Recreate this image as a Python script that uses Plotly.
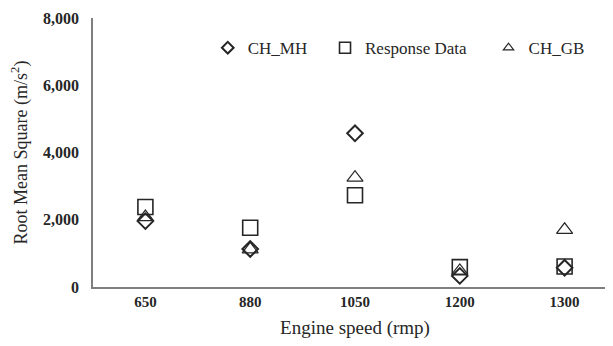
import plotly.graph_objects as go

categories = ["650", "880", "1050", "1200", "1300"]
ch_mh = [1960, 1130, 4570, 330, 570]
response_data = [2380, 1760, 2730, 590, 610]
ch_gb = [2080, 1120, 3250, 480, 1700]
series_names = ["CH_MH", "Response Data", "CH_GB"]
legend_pad = ["\u00a0\u00a0\u00a0", "\u00a0\u00a0\u00a0\u00a0", ""]

color = "#262626"
symbols = ["diamond-open", "square-open", "triangle-up-open"]
sizes = [12, 15, 14]
widths = [2, 1.6, 1.2]
leg_sizes = [9, 11, 9]

fig = go.Figure()
for name, vals, sym, sz, w in zip(series_names, [ch_mh, response_data, ch_gb], symbols, sizes, widths):
    fig.add_trace(go.Scatter(x=categories, y=vals, mode="markers", name=name, showlegend=False,
                             marker=dict(symbol=sym, size=sz, color=color, line=dict(width=w, color=color))))
for name, pad, sym, sz, w in zip(series_names, legend_pad, symbols, leg_sizes, widths):
    fig.add_trace(go.Scatter(x=[None], y=[None], mode="markers", name=name + pad, showlegend=True,
                             marker=dict(symbol=sym, size=sz, color=color, line=dict(width=w, color=color))))

fig.update_layout(
    width=609, height=338,
    margin=dict(l=85, r=0, t=10, b=59, autoexpand=False),
    paper_bgcolor="white", plot_bgcolor="white",
    font=dict(family="Liberation Serif", color="#262626"),
    showlegend=True,
    legend=dict(orientation="h", x=0.219, y=0.888, xanchor="left", yanchor="middle",
                font=dict(size=17, family="Liberation Serif", color="#262626"),
                bgcolor="rgba(0,0,0,0)"),
)
fig.update_xaxes(type="category", range=[-0.5, 4.5], showline=True, linecolor="#7f7f7f", linewidth=1.5,
                 ticks="", showgrid=False, zeroline=False, automargin=False,
                 tickfont=dict(size=15, family="Liberation Serif", color="#262626", weight="bold"),
                 title=dict(text="Engine speed (rmp)", font=dict(size=19, family="Liberation Serif", color="#262626"), standoff=12))
fig.update_yaxes(range=[0, 8000], dtick=2000, tickformat=",d", showline=True, linecolor="#7f7f7f", linewidth=1.5,
                 ticks="", showgrid=False, zeroline=False, ticklabelstandoff=9, automargin=False,
                 tickfont=dict(size=16, family="Liberation Serif", color="#262626", weight="bold"),
                 title=dict(text="Root Mean Square (m/s<sup>2</sup>)", font=dict(size=18, family="Liberation Serif", color="#262626"), standoff=16))

fig.write_html("out.html")
